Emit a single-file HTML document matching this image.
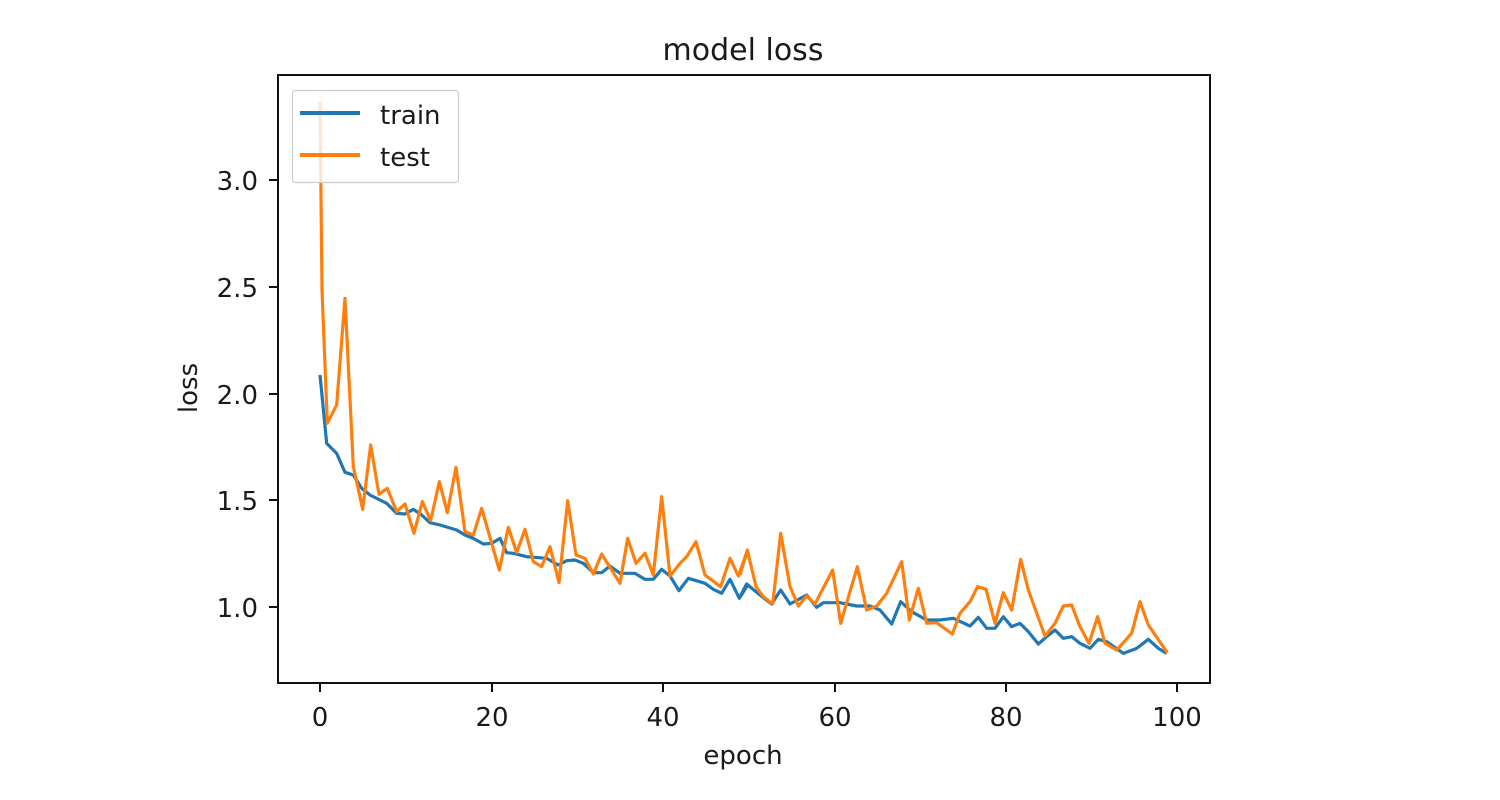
<!DOCTYPE html>
<html><head><meta charset="utf-8"><style>body{margin:0;background:#fff}svg{display:block}text{font-family:"DejaVu Sans","Liberation Sans",sans-serif;fill:#1a1a1a}</style></head>
<body>
<svg width="1500" height="800" viewBox="0 0 1500 800" xmlns="http://www.w3.org/2000/svg">
<rect width="1500" height="800" fill="#fff"/>
<text x="743" y="60" font-size="30" text-anchor="middle">model loss</text>
<g stroke-linejoin="round" fill="none" stroke-width="3.2">
<g transform="translate(300,280) scale(0.33333)">
<polyline vector-effect="non-scaling-stroke" stroke="#1f77b4" stroke-width="3.2" points="60,285 80,490 110,520 135,577 160,585 185,625 210,645 260,670 290,700 315,702 340,688 365,705 390,728 420,735 470,750 495,765 520,775 550,792 575,790 600,775 620,818 640,820 680,830 740,835 775,855 800,842 825,840 850,850 880,878 905,878 930,858 960,880 1005,880 1035,898 1060,898 1085,868 1110,888 1137,932 1165,895 1215,910 1240,928 1265,940 1290,898 1318,955 1345,912"/>
<polyline vector-effect="non-scaling-stroke" stroke="#ff7f0e" stroke-width="3.2" points="60,-534 66,30 82,430 110,375 135,55 160,560 188,688 212,495 237,643 262,625 290,695 315,672 342,760 367,665 392,722 418,605 442,698 468,562 495,755 520,765 545,685 598,870 625,742 650,818 675,748 700,845 725,860 750,800 777,908 803,662 828,825 855,835 880,882 905,822 960,910 983,775 1008,850 1035,820 1060,885 1085,650 1110,888 1140,850 1160,830 1188,785 1215,885 1262,920 1290,835 1315,888 1343,810"/>
</g>
<g transform="translate(740,480) scale(0.33333)">
<polyline vector-effect="non-scaling-stroke" stroke="#1f77b4" stroke-width="3.2" points="0,350 20,312 60,345 95,372 122,330 150,372 200,345 230,382 250,368 300,368 350,378 390,378 420,390 455,432 482,365 515,395 560,420 600,420 640,415 690,438 715,412 740,445 765,445 790,410 815,440 840,430 865,455 895,492 920,470 945,450 970,475 995,470 1020,490 1050,505 1075,478 1100,485 1150,520 1190,505 1225,478 1255,505 1280,520"/>
<polyline vector-effect="non-scaling-stroke" stroke="#ff7f0e" stroke-width="3.2" points="0,285 22,210 48,320 70,350 98,372 122,160 150,320 175,378 200,348 225,372 278,270 302,430 352,260 380,390 410,378 440,340 485,245 508,420 535,325 560,430 590,428 637,462 660,400 690,365 713,320 738,328 765,430 790,338 815,390 842,238 865,330 915,468 945,430 970,378 995,375 1020,440 1047,490 1073,410 1095,490 1130,510 1175,460 1200,365 1225,435 1282,518"/>
</g>
</g>
<rect x="278" y="75" width="932" height="608" fill="none" stroke="#111" stroke-width="2"/>
<rect x="292.5" y="90.5" width="166" height="92" rx="3" fill="#fff" fill-opacity="0.8" stroke="#ccc" stroke-width="1.2"/>
<line x1="300" y1="113" x2="360" y2="113" stroke="#1f77b4" stroke-width="4"/>
<line x1="300" y1="155" x2="360" y2="155" stroke="#ff7f0e" stroke-width="4"/>
<text x="380" y="124" font-size="26">train</text>
<text x="380" y="166" font-size="26">test</text>
<g stroke="#111" stroke-width="2">
<line x1="320" y1="683" x2="320" y2="692"/><line x1="492" y1="683" x2="492" y2="692"/><line x1="663" y1="683" x2="663" y2="692"/><line x1="835" y1="683" x2="835" y2="692"/><line x1="1006" y1="683" x2="1006" y2="692"/><line x1="1177" y1="683" x2="1177" y2="692"/>
<line x1="269" y1="180" x2="278" y2="180"/><line x1="269" y1="287" x2="278" y2="287"/><line x1="269" y1="394" x2="278" y2="394"/><line x1="269" y1="500" x2="278" y2="500"/><line x1="269" y1="607" x2="278" y2="607"/>
</g>
<g font-size="26" text-anchor="middle">
<text x="320" y="726">0</text><text x="492" y="726">20</text><text x="663" y="726">40</text><text x="835" y="726">60</text><text x="1006" y="726">80</text><text x="1177" y="726">100</text>
</g>
<g font-size="26" text-anchor="end">
<text x="258" y="190">3.0</text><text x="258" y="297">2.5</text><text x="258" y="404">2.0</text><text x="258" y="510">1.5</text><text x="258" y="617">1.0</text>
</g>
<text x="743" y="764" font-size="26" text-anchor="middle">epoch</text>
<text transform="translate(197,388) rotate(-90)" font-size="26" text-anchor="middle">loss</text>
</svg>
</body></html>
